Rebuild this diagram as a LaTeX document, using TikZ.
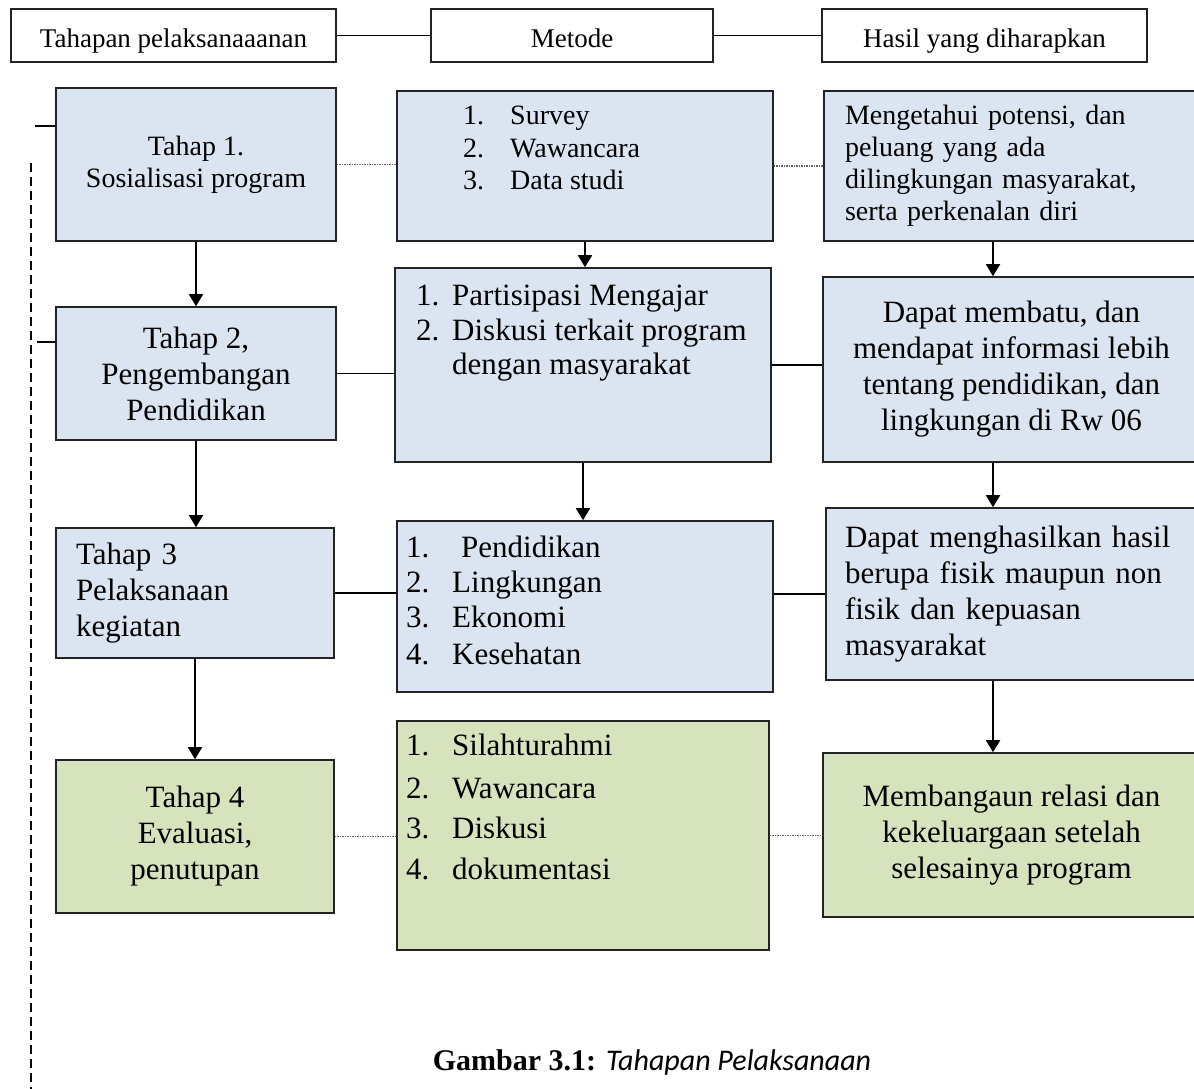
\documentclass[tikz,border=0pt]{standalone}
\usepackage{fontspec}
\setmainfont{Liberation Serif}
\newfontfamily\capsans{Carlito}
\usetikzlibrary{arrows.meta,positioning}
\definecolor{stageblue}{RGB}{219,229,241}
\definecolor{stagegreen}{RGB}{215,227,188}
\definecolor{edgegray}{RGB}{35,35,35}

\begin{document}
\begin{tikzpicture}[x=1pt,y=-1pt,
  blk/.style n args={3}{draw=edgegray,line width=1.6pt,fill=#1,minimum width=#2pt,minimum height=#3pt,inner sep=0pt,rectangle},
  hdr/.style={blk={white}{#1}{53},font=\fontsize{27}{31}\selectfont,text height=23pt,text depth=0pt},
  sm/.style={font=\fontsize{28}{32}\selectfont},
  lg/.style={font=\fontsize{31}{36}\selectfont},
  listitem/.style={lg,anchor=west,inner sep=0pt,text height=21pt,text depth=7pt},
  arr/.style={-{Triangle[width=14pt,length=12pt]},line width=1.8pt},
  lnk/.style={line width=1.6pt},
  dotlink/.style={black!60,densely dotted,line width=1.5pt}]
\useasboundingbox (0,0) rectangle (1194,1088);
% header row
\node[hdr=325] (h1) at (173.5,35.5) {Tahapan pelaksanaaanan};
\node[hdr=282] (h2) at (572,35.5) {Metode};
\node[hdr=325] (h3) at (984.5,35.5) {Hasil yang diharapkan};
\draw[lnk] (h1) -- (h2);
\draw[lnk] (h2) -- (h3);
% stages
\node[blk={stageblue}{280}{153},sm,align=center] (t1) at (196,164.5) {Tahap 1.\\Sosialisasi program};
\node[blk={stageblue}{280}{133},lg,align=center] (t2) at (196,373.5) {Tahap 2,\\Pengembangan\\Pendidikan};
\node[blk={stageblue}{278}{130},lg,align=left,text width=238pt] (t3) at (195,593) {Tahap 3\\Pelaksanaan\\kegiatan};
\node[blk={stagegreen}{278}{153},lg,align=center] (t4) at (195,836.5) {Tahap 4\\Evaluasi,\\penutupan};
% methods
\node[blk={stageblue}{376}{150}] (m1) at (585,166) {};
\node[blk={stageblue}{376}{194}] (m2) at (583,365) {};
\node[blk={stageblue}{376}{171}] (m3) at (585,606.5) {};
\node[blk={stagegreen}{372}{229}] (m4) at (583,835.5) {};
\foreach \i/\t/\y in %
{1/Survey/117,2/Wawancara/150,3/Data studi/182} {
   \node[listitem,sm] (m1n\i) at (463,\y) {\i.};
   \node[listitem,sm] (m1t\i) at (510,\y) {\t};
}
\foreach \i/\t/\y in %
{1/Partisipasi Mengajar/298,2/Diskusi terkait program/333} {
   \node[listitem] (m2n\i) at (416,\y) {\i.};
   \node[listitem] (m2t\i) at (452,\y) {\t};
}
\node[listitem] (m2t3) at (452,367) {dengan masyarakat};
\foreach \i/\t/\y/\x in %
{1/Pendidikan/550/461,2/Lingkungan/585/452,3/Ekonomi/620/452,4/Kesehatan/657/452} {
   \node[listitem] (m3n\i) at (406,\y) {\i.};
   \node[listitem] (m3t\i) at (\x,\y) {\t};
}
\foreach \i/\t/\y in %
{1/Silahturahmi/748,2/Wawancara/791,3/Diskusi/831,4/dokumentasi/872} {
   \node[listitem] (m4n\i) at (406,\y) {\i.};
   \node[listitem] (m4t\i) at (452,\y) {\t};
}
% results
\node[blk={stageblue}{376}{150},sm,align=left,text width=334pt] (r1) at (1012,166) {Mengetahui potensi, dan\\peluang yang ada\\dilingkungan masyarakat,\\serta perkenalan diri};
\node[blk={stageblue}{377}{185},lg,align=center] (r2) at (1011.5,369.5) {Dapat membatu, dan\\mendapat informasi lebih\\tentang pendidikan, dan\\lingkungan di Rw 06};
\node[blk={stageblue}{374}{172},lg,align=left,text width=336pt] (r3) at (1013,594) {Dapat menghasilkan hasil\\berupa fisik maupun non\\fisik dan kepuasan\\masyarakat};
\node[blk={stagegreen}{377}{164},lg,align=center] (r4) at (1011.5,835) {Membangaun relasi dan\\kekeluargaan setelah\\selesainya program};
% arrows down
\coordinate (rx) at (993,0);
\draw[arr] (t1.south) -- (t1.south |- t2.north);
\draw[arr] (t2.south) -- (t2.south |- t3.north);
\draw[arr] (t3.south) -- (t3.south |- t4.north);
\draw[arr] (m1.south) -- (m1.south |- m2.north);
\draw[arr] (m2.south) -- (m2.south |- m3.north);
\draw[arr] (r1.south -| rx) -- (r2.north -| rx);
\draw[arr] (r2.south -| rx) -- (r3.north -| rx);
\draw[arr] (r3.south -| rx) -- (r4.north -| rx);
% links across
\draw[dotlink] (t1.east) -- (t1.east -| m1.west);
\draw[dotlink] (m1.east) -- (m1.east -| r1.west);
\draw[lnk] (t2.east) -- (t2.east -| m2.west);
\draw[lnk] (m2.east) -- (m2.east -| r2.west);
\draw[lnk] (t3.east) -- (t3.east -| m3.west);
\draw[lnk] (r3.west) -- (r3.west -| m3.east);
\draw[dotlink] (t4.east) -- (t4.east -| m4.west);
\draw[dotlink] (m4.east) -- (m4.east -| r4.west);
% left side
\coordinate (s1) at (35,126);
\coordinate (s2) at (37,342);
\draw[lnk] (s1) -- (s1 -| t1.west);
\draw[lnk] (s2) -- (s2 -| t2.west);
\coordinate (d1) at (31,163);
\coordinate (d2) at (31,1090);
\draw[line width=1.2pt,dash pattern=on 9pt off 5pt] (d1) -- (d2);
% caption
\node (cap) at (652,1062) {\fontsize{30}{34}\selectfont\textbf{Gambar 3.1:} {\capsans\itshape Tahapan Pelaksanaan}};
\end{tikzpicture}
\end{document}
